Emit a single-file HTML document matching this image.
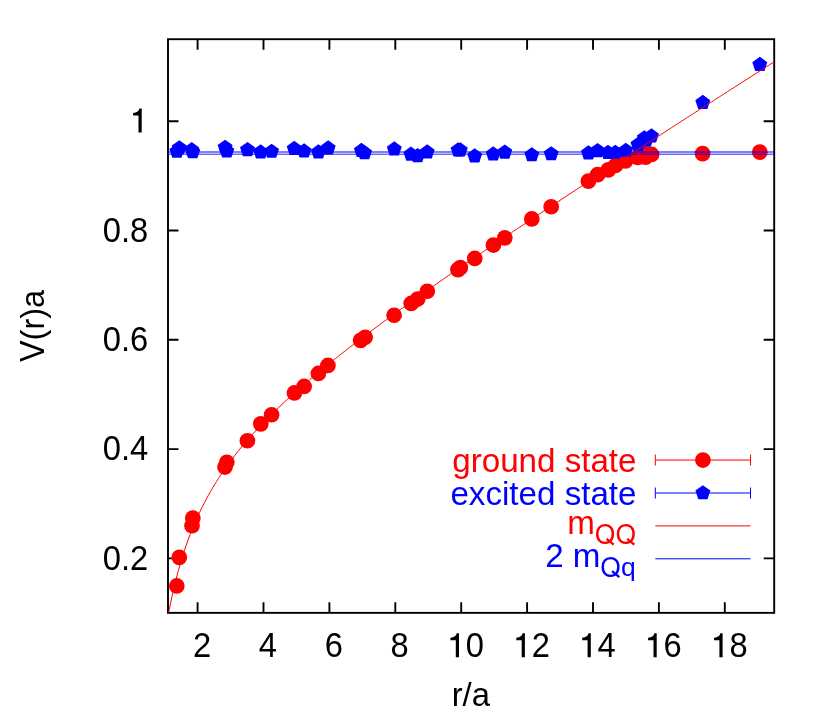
<!DOCTYPE html><html><head><meta charset="utf-8"><style>html,body{margin:0;padding:0;background:#fff}svg{display:block;will-change:transform}text{font-family:"Liberation Sans",sans-serif;font-size:33.15px}</style></head><body>
<svg width="830" height="712" viewBox="0 0 830 712">
<rect width="830" height="712" fill="#fff"/>
<g stroke="#000" stroke-width="1.9" fill="none" stroke-linecap="butt">
<path d="M197.60 612.85V602.25M197.60 39.20V49.80"/>
<path d="M263.50 612.85V602.25M263.50 39.20V49.80"/>
<path d="M329.40 612.85V602.25M329.40 39.20V49.80"/>
<path d="M395.30 612.85V602.25M395.30 39.20V49.80"/>
<path d="M461.20 612.85V602.25M461.20 39.20V49.80"/>
<path d="M527.10 612.85V602.25M527.10 39.20V49.80"/>
<path d="M593.00 612.85V602.25M593.00 39.20V49.80"/>
<path d="M658.90 612.85V602.25M658.90 39.20V49.80"/>
<path d="M724.80 612.85V602.25M724.80 39.20V49.80"/>
<path d="M168.00 558.40H178.50M774.20 558.40H763.70"/>
<path d="M168.00 449.10H178.50M774.20 449.10H763.70"/>
<path d="M168.00 339.80H178.50M774.20 339.80H763.70"/>
<path d="M168.00 230.50H178.50M774.20 230.50H763.70"/>
<path d="M168.00 121.20H178.50M774.20 121.20H763.70"/>
<rect x="168.00" y="39.20" width="606.20" height="573.65"/>
</g>
<clipPath id="cp"><rect x="168.00" y="39.20" width="606.20" height="573.65"/></clipPath>
<g fill="#ff0000">
<circle cx="176.8" cy="585.95" r="7.85"/>
<circle cx="179.3" cy="557.35" r="7.85"/>
<circle cx="192.0" cy="525.75" r="7.85"/>
<circle cx="192.8" cy="518.15" r="7.85"/>
<circle cx="225.0" cy="467.05" r="7.85"/>
<circle cx="226.8" cy="462.35" r="7.85"/>
<circle cx="247.4" cy="440.75" r="7.85"/>
<circle cx="260.8" cy="423.85" r="7.85"/>
<circle cx="271.6" cy="414.75" r="7.85"/>
<circle cx="294.4" cy="392.95" r="7.85"/>
<circle cx="304.1" cy="386.45" r="7.85"/>
<circle cx="318.4" cy="373.45" r="7.85"/>
<circle cx="327.9" cy="365.45" r="7.85"/>
<circle cx="360.6" cy="340.35" r="7.85"/>
<circle cx="365.2" cy="337.25" r="7.85"/>
<circle cx="394.1" cy="315.25" r="7.85"/>
<circle cx="411.2" cy="303.45" r="7.85"/>
<circle cx="417.7" cy="299.05" r="7.85"/>
<circle cx="427.3" cy="291.25" r="7.85"/>
<circle cx="458.0" cy="269.65" r="7.85"/>
<circle cx="460.3" cy="267.65" r="7.85"/>
<circle cx="474.7" cy="258.45" r="7.85"/>
<circle cx="493.4" cy="245.05" r="7.85"/>
<circle cx="504.8" cy="237.85" r="7.85"/>
<circle cx="531.8" cy="218.95" r="7.85"/>
<circle cx="551.2" cy="206.75" r="7.85"/>
<circle cx="588.4" cy="181.15" r="7.85"/>
<circle cx="597.6" cy="174.65" r="7.85"/>
<circle cx="608.3" cy="169.85" r="7.85"/>
<circle cx="615.5" cy="165.45" r="7.85"/>
<circle cx="625.5" cy="160.95" r="7.85"/>
<circle cx="637.8" cy="157.45" r="7.85"/>
<circle cx="645.5" cy="157.25" r="7.85"/>
<circle cx="646.2" cy="154.45" r="7.85"/>
<circle cx="651.6" cy="154.45" r="7.85"/>
<circle cx="702.6" cy="153.65" r="7.85"/>
<circle cx="759.8" cy="152.15" r="7.85"/>
</g>
<g fill="#0000ff">
<polygon points="176.90,143.65 169.43,149.07 172.29,157.85 181.51,157.85 184.37,149.07"/>
<polygon points="179.30,140.15 171.83,145.57 174.69,154.35 183.91,154.35 186.77,145.57"/>
<polygon points="191.70,142.05 184.23,147.47 187.09,156.25 196.31,156.25 199.17,147.47"/>
<polygon points="192.80,144.15 185.33,149.57 188.19,158.35 197.41,158.35 200.27,149.57"/>
<polygon points="225.10,139.65 217.63,145.07 220.49,153.85 229.71,153.85 232.57,145.07"/>
<polygon points="226.80,143.35 219.33,148.77 222.19,157.55 231.41,157.55 234.27,148.77"/>
<polygon points="247.50,141.95 240.03,147.37 242.89,156.15 252.11,156.15 254.97,147.37"/>
<polygon points="260.60,144.25 253.13,149.67 255.99,158.45 265.21,158.45 268.07,149.67"/>
<polygon points="271.60,143.65 264.13,149.07 266.99,157.85 276.21,157.85 279.07,149.07"/>
<polygon points="294.20,140.75 286.73,146.17 289.59,154.95 298.81,154.95 301.67,146.17"/>
<polygon points="304.10,143.25 296.63,148.67 299.49,157.45 308.71,157.45 311.57,148.67"/>
<polygon points="318.40,144.25 310.93,149.67 313.79,158.45 323.01,158.45 325.87,149.67"/>
<polygon points="328.20,140.35 320.73,145.77 323.59,154.55 332.81,154.55 335.67,145.77"/>
<polygon points="361.40,142.85 353.93,148.27 356.79,157.05 366.01,157.05 368.87,148.27"/>
<polygon points="364.60,145.15 357.13,150.57 359.99,159.35 369.21,159.35 372.07,150.57"/>
<polygon points="394.30,141.25 386.83,146.67 389.69,155.45 398.91,155.45 401.77,146.67"/>
<polygon points="410.90,146.55 403.43,151.97 406.29,160.75 415.51,160.75 418.37,151.97"/>
<polygon points="417.60,148.05 410.13,153.47 412.99,162.25 422.21,162.25 425.07,153.47"/>
<polygon points="427.20,144.25 419.73,149.67 422.59,158.45 431.81,158.45 434.67,149.67"/>
<polygon points="458.10,142.25 450.63,147.67 453.49,156.45 462.71,156.45 465.57,147.67"/>
<polygon points="460.30,142.25 452.83,147.67 455.69,156.45 464.91,156.45 467.77,147.67"/>
<polygon points="474.70,148.35 467.23,153.77 470.09,162.55 479.31,162.55 482.17,153.77"/>
<polygon points="493.20,146.25 485.73,151.67 488.59,160.45 497.81,160.45 500.67,151.67"/>
<polygon points="504.80,144.45 497.33,149.87 500.19,158.65 509.41,158.65 512.27,149.87"/>
<polygon points="531.80,147.15 524.33,152.57 527.19,161.35 536.41,161.35 539.27,152.57"/>
<polygon points="551.20,146.15 543.73,151.57 546.59,160.35 555.81,160.35 558.67,151.57"/>
<polygon points="588.40,145.25 580.93,150.67 583.79,159.45 593.01,159.45 595.87,150.67"/>
<polygon points="597.60,142.95 590.13,148.37 592.99,157.15 602.21,157.15 605.07,148.37"/>
<polygon points="608.00,144.85 600.53,150.27 603.39,159.05 612.61,159.05 615.47,150.27"/>
<polygon points="615.30,144.65 607.83,150.07 610.69,158.85 619.91,158.85 622.77,150.07"/>
<polygon points="625.80,142.65 618.33,148.07 621.19,156.85 630.41,156.85 633.27,148.07"/>
<polygon points="638.00,136.85 630.53,142.27 633.39,151.05 642.61,151.05 645.47,142.27"/>
<polygon points="646.20,132.55 638.73,137.97 641.59,146.75 650.81,146.75 653.67,137.97"/>
<polygon points="644.40,130.15 636.93,135.57 639.79,144.35 649.01,144.35 651.87,135.57"/>
<polygon points="651.50,128.35 644.03,133.77 646.89,142.55 656.11,142.55 658.97,133.77"/>
<polygon points="702.80,94.75 695.33,100.17 698.19,108.95 707.41,108.95 710.27,100.17"/>
<polygon points="759.80,56.75 752.33,62.17 755.19,70.95 764.41,70.95 767.27,62.17"/>
</g>
<polyline clip-path="url(#cp)" fill="none" stroke="#ff0000" stroke-width="1" points="167.94,616.44 169.97,606.01 171.99,596.42 174.01,587.56 176.03,579.33 178.05,571.66 180.07,564.49 182.09,557.76 184.11,551.43 186.13,545.44 188.15,539.78 190.18,534.40 192.20,529.28 194.22,524.40 196.24,519.73 198.26,515.26 200.28,510.97 202.30,506.85 204.32,502.87 206.34,499.04 208.36,495.34 210.38,491.76 212.41,488.29 214.43,484.92 216.45,481.65 218.47,478.47 220.49,475.38 222.51,472.36 224.53,469.42 226.55,466.55 228.57,463.74 230.59,461.00 232.61,458.31 234.64,455.68 236.66,453.09 238.68,450.56 240.70,448.07 242.72,445.63 244.74,443.23 246.76,440.87 248.78,438.54 250.80,436.25 252.82,434.00 254.85,431.77 256.87,429.58 258.89,427.41 260.91,425.28 262.93,423.17 264.95,421.08 266.97,419.02 268.99,416.98 271.01,414.97 273.03,412.97 275.05,411.00 277.08,409.05 279.10,407.11 281.12,405.20 283.14,403.30 285.16,401.41 287.18,399.55 289.20,397.70 291.22,395.86 293.24,394.04 295.26,392.23 297.28,390.43 299.31,388.65 301.33,386.88 303.35,385.12 305.37,383.38 307.39,381.64 309.41,379.92 311.43,378.20 313.45,376.50 315.47,374.81 317.49,373.12 319.51,371.45 321.54,369.78 323.56,368.12 325.58,366.47 327.60,364.83 329.62,363.20 331.64,361.57 333.66,359.95 335.68,358.34 337.70,356.73 339.72,355.14 341.75,353.55 343.77,351.96 345.79,350.38 347.81,348.81 349.83,347.24 351.85,345.68 353.87,344.12 355.89,342.57 357.91,341.03 359.93,339.49 361.95,337.95 363.98,336.42 366.00,334.90 368.02,333.38 370.04,331.86 372.06,330.35 374.08,328.84 376.10,327.34 378.12,325.84 380.14,324.34 382.16,322.85 384.18,321.36 386.21,319.88 388.23,318.40 390.25,316.92 392.27,315.45 394.29,313.98 396.31,312.51 398.33,311.05 400.35,309.58 402.37,308.13 404.39,306.67 406.42,305.22 408.44,303.77 410.46,302.33 412.48,300.88 414.50,299.44 416.52,298.01 418.54,296.57 420.56,295.14 422.58,293.71 424.60,292.28 426.62,290.85 428.65,289.43 430.67,288.01 432.69,286.59 434.71,285.17 436.73,283.76 438.75,282.35 440.77,280.94 442.79,279.53 444.81,278.12 446.83,276.72 448.85,275.32 450.88,273.92 452.90,272.52 454.92,271.12 456.94,269.73 458.96,268.34 460.98,266.94 463.00,265.55 465.02,264.17 467.04,262.78 469.06,261.39 471.09,260.01 473.11,258.63 475.13,257.25 477.15,255.87 479.17,254.49 481.19,253.12 483.21,251.74 485.23,250.37 487.25,249.00 489.27,247.63 491.29,246.26 493.32,244.89 495.34,243.52 497.36,242.16 499.38,240.80 501.40,239.43 503.42,238.07 505.44,236.71 507.46,235.35 509.48,233.99 511.50,232.64 513.52,231.28 515.55,229.93 517.57,228.57 519.59,227.22 521.61,225.87 523.63,224.52 525.65,223.17 527.67,221.82 529.69,220.47 531.71,219.12 533.73,217.78 535.75,216.43 537.78,215.09 539.80,213.75 541.82,212.40 543.84,211.06 545.86,209.72 547.88,208.38 549.90,207.04 551.92,205.71 553.94,204.37 555.96,203.03 557.99,201.70 560.01,200.36 562.03,199.03 564.05,197.69 566.07,196.36 568.09,195.03 570.11,193.70 572.13,192.37 574.15,191.04 576.17,189.71 578.19,188.38 580.22,187.05 582.24,185.73 584.26,184.40 586.28,183.08 588.30,181.75 590.32,180.43 592.34,179.10 594.36,177.78 596.38,176.46 598.40,175.14 600.42,173.81 602.45,172.49 604.47,171.17 606.49,169.85 608.51,168.54 610.53,167.22 612.55,165.90 614.57,164.58 616.59,163.27 618.61,161.95 620.63,160.63 622.66,159.32 624.68,158.00 626.70,156.69 628.72,155.38 630.74,154.06 632.76,152.75 634.78,151.44 636.80,150.13 638.82,148.81 640.84,147.50 642.86,146.19 644.89,144.88 646.91,143.57 648.93,142.27 650.95,140.96 652.97,139.65 654.99,138.34 657.01,137.03 659.03,135.73 661.05,134.42 663.07,133.11 665.09,131.81 667.12,130.50 669.14,129.20 671.16,127.89 673.18,126.59 675.20,125.29 677.22,123.98 679.24,122.68 681.26,121.38 683.28,120.08 685.30,118.77 687.32,117.47 689.35,116.17 691.37,114.87 693.39,113.57 695.41,112.27 697.43,110.97 699.45,109.67 701.47,108.37 703.49,107.07 705.51,105.78 707.53,104.48 709.56,103.18 711.58,101.88 713.60,100.59 715.62,99.29 717.64,97.99 719.66,96.70 721.68,95.40 723.70,94.10 725.72,92.81 727.74,91.51 729.76,90.22 731.79,88.93 733.81,87.63 735.83,86.34 737.85,85.04 739.87,83.75 741.89,82.46 743.91,81.16 745.93,79.87 747.95,78.58 749.97,77.29 751.99,76.00 754.02,74.70 756.04,73.41 758.06,72.12 760.08,70.83 762.10,69.54 764.12,68.25 766.14,66.96 768.16,65.67 770.18,64.38 772.20,63.09 774.23,61.80"/>
<rect x="168.0" y="151" width="606.2" height="2" fill="#0000ff" fill-opacity="0.5"/>
<rect x="168.0" y="153" width="606.2" height="1" fill="#0000ff" fill-opacity="0.28"/>
<rect x="168.0" y="154" width="606.2" height="1" fill="#0000ff" fill-opacity="0.58"/>
<g fill="#000">
<text transform="translate(202.0,657.3) scale(0.986,1.065)" text-anchor="middle">2</text>
<text transform="translate(267.9,657.3) scale(0.986,1.065)" text-anchor="middle">4</text>
<text transform="translate(333.8,657.3) scale(0.986,1.065)" text-anchor="middle">6</text>
<text transform="translate(399.7,657.3) scale(0.986,1.065)" text-anchor="middle">8</text>
<path d="M459.00 657.30V633.35H456.70C456.30 635.70 454.30 637.70 450.40 637.80V640.20H455.80V657.30Z"/>
<text transform="translate(474.9,657.3) scale(0.986,1.065)" text-anchor="middle">0</text>
<path d="M524.90 657.30V633.35H522.60C522.20 635.70 520.20 637.70 516.30 637.80V640.20H521.70V657.30Z"/>
<text transform="translate(540.8,657.3) scale(0.986,1.065)" text-anchor="middle">2</text>
<path d="M590.80 657.30V633.35H588.50C588.10 635.70 586.10 637.70 582.20 637.80V640.20H587.60V657.30Z"/>
<text transform="translate(606.7,657.3) scale(0.986,1.065)" text-anchor="middle">4</text>
<path d="M656.70 657.30V633.35H654.40C654.00 635.70 652.00 637.70 648.10 637.80V640.20H653.50V657.30Z"/>
<text transform="translate(672.6,657.3) scale(0.986,1.065)" text-anchor="middle">6</text>
<path d="M722.60 657.30V633.35H720.30C719.90 635.70 717.90 637.70 714.00 637.80V640.20H719.40V657.30Z"/>
<text transform="translate(738.5,657.3) scale(0.986,1.065)" text-anchor="middle">8</text>
<path d="M141.70 132.50V108.55H139.40C139.00 110.90 137.00 112.90 133.10 113.00V115.40H138.50V132.50Z"/>
<text transform="translate(148.3,569.6) scale(0.986,1.065)" text-anchor="end">0.2</text>
<text transform="translate(148.3,460.3) scale(0.986,1.065)" text-anchor="end">0.4</text>
<text transform="translate(148.3,351.0) scale(0.986,1.065)" text-anchor="end">0.6</text>
<text transform="translate(148.3,241.7) scale(0.986,1.065)" text-anchor="end">0.8</text>
<text transform="translate(470.8,706.1) scale(0.99,1)" text-anchor="middle">r/a</text>
<g transform="translate(44.3,326) rotate(-90)"><text transform="translate(-36.1,0) scale(0.98,1.045)">V</text><text transform="translate(-14.4,0) scale(0.98,1)">(r)a</text></g>
</g>
<g stroke="#ff0000" stroke-width="1" fill="none"><path d="M655.3 460.05H750.5M655.3 454.55v11M750.5 454.55v11"/><path d="M655.3 525.90H750.5"/></g>
<g stroke="#0000ff" stroke-width="1" fill="none"><path d="M655.3 493.00H750.5M655.3 487.50v11M750.5 487.50v11"/><path d="M655.3 558.80H750.5"/></g>
<circle cx="702.9" cy="460.05" r="7.85" fill="#ff0000"/>
<g fill="#0000ff"><polygon points="702.90,485.15 695.43,490.57 698.29,499.35 707.51,499.35 710.37,490.57"/></g>
<text x="636.5" y="471.85" text-anchor="end" fill="#ff0000">ground state</text>
<text x="636.5" y="504.8" text-anchor="end" fill="#0000ff">excited state</text>
<text x="594.8" y="533.6" text-anchor="end" fill="#ff0000">m</text>
<text transform="translate(636.0,544.1) scale(1,1.08)" text-anchor="end" fill="#ff0000" style="font-size:26.5px">OO</text>
<text x="600.4" y="566.9" text-anchor="end" fill="#0000ff">2 m</text>
<text transform="translate(620.95,577.2) scale(1,1.08)" text-anchor="end" fill="#0000ff" style="font-size:26.5px">O</text>
<text transform="translate(635.7,576.2) scale(1,1.0)" text-anchor="end" fill="#0000ff" style="font-size:26.5px">q</text>
<path d="M606.6 538.8L613.7 544.7M627.2 538.8L634.3 544.7" stroke="#ff0000" stroke-width="2.3" fill="none"/>
<path d="M612.1 571.1L619.3 577.2" stroke="#0000ff" stroke-width="2.3" fill="none"/>
</svg></body></html>
